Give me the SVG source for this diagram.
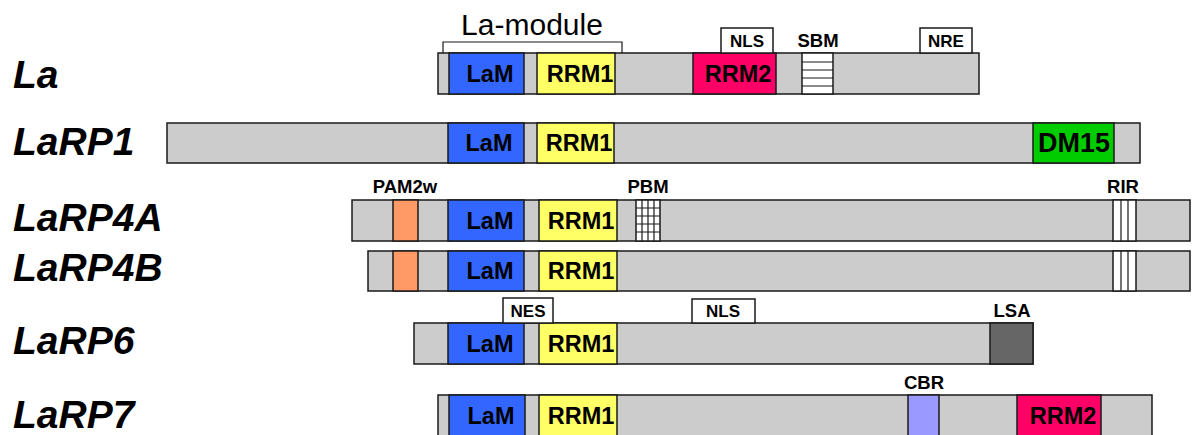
<svg xmlns="http://www.w3.org/2000/svg" width="1192" height="435" viewBox="0 0 1192 435">
  <style>
    .bar { fill: #cccccc; stroke: #1a1a1a; stroke-width: 1.5; }
    .lam { fill: #3366ff; stroke: #1a1a1a; stroke-width: 1.5; }
    .rrm1 { fill: #ffff66; stroke: #1a1a1a; stroke-width: 1.5; }
    .rrm2 { fill: #ff0066; stroke: #1a1a1a; stroke-width: 1.5; }
    .dm15 { fill: #00cc00; stroke: #1a1a1a; stroke-width: 1.5; }
    .pam { fill: #ff9966; stroke: #1a1a1a; stroke-width: 1.5; }
    .lsa { fill: #666666; stroke: #1a1a1a; stroke-width: 1.5; }
    .cbr { fill: #9999ff; stroke: #1a1a1a; stroke-width: 1.5; }
    .white { fill: #ffffff; stroke: #1a1a1a; stroke-width: 1.5; }
    .line { stroke: #1a1a1a; stroke-width: 1.2; fill: none; }
    .name { font-family: "Liberation Sans", Arial, sans-serif; font-weight: bold; font-style: italic; font-size: 39px; fill: #000; }
    .dom { font-family: "Liberation Sans", Arial, sans-serif; font-weight: bold; font-size: 23.5px; fill: #000; text-anchor: middle; }
    .big { font-size: 27px; }
    .tag { font-family: "Liberation Sans", Arial, sans-serif; font-weight: bold; font-size: 18.5px; fill: #000; text-anchor: middle; }
    .box { font-family: "Liberation Sans", Arial, sans-serif; font-weight: bold; font-size: 17px; fill: #000; text-anchor: middle; }
    .title { font-family: "Liberation Sans", Arial, sans-serif; font-size: 30px; fill: #000; text-anchor: middle; }
  </style>

  <!-- La -->
  <g id="La">
    <text class="name" x="13" y="88">La</text>
    <rect class="bar" x="438" y="53" width="541" height="41"/>
    <rect class="lam" x="449" y="53" width="75" height="41"/>
    <rect class="rrm1" x="537" y="53" width="78" height="41"/>
    <rect class="rrm2" x="693" y="53" width="83" height="41"/>
    <rect class="white" x="802" y="53" width="31" height="41"/>
    <path class="line" d="M802 62H833M802 70H833M802 78H833M802 86H833"/>
    <text class="dom" x="490" y="82">LaM</text>
    <text class="dom" x="580" y="82">RRM1</text>
    <text class="dom" x="738" y="82">RRM2</text>
    <rect class="white" x="721" y="28" width="52" height="25"/>
    <text class="box" x="747" y="47">NLS</text>
    <text class="tag" x="818" y="47">SBM</text>
    <rect class="white" x="920" y="28" width="52" height="25"/>
    <text class="box" x="946" y="47">NRE</text>
  </g>

  <!-- LaRP1 -->
  <g id="LaRP1">
    <text class="name" x="13" y="155">LaRP1</text>
    <rect class="bar" x="167" y="123" width="973" height="40"/>
    <rect class="lam" x="448" y="123" width="76" height="40"/>
    <rect class="rrm1" x="537" y="123" width="77" height="40"/>
    <rect class="dm15" x="1033" y="123" width="81" height="40"/>
    <text class="dom" x="489" y="151">LaM</text>
    <text class="dom" x="579" y="151">RRM1</text>
    <text class="dom big" x="1074" y="152">DM15</text>
  </g>

  <!-- LaRP4A -->
  <g id="LaRP4A">
    <text class="name" x="13" y="231">LaRP4A</text>
    <rect class="bar" x="352" y="200" width="838" height="41"/>
    <rect class="pam" x="393" y="200" width="25" height="41"/>
    <rect class="lam" x="448" y="200" width="76" height="41"/>
    <rect class="rrm1" x="539" y="200" width="78" height="41"/>
    <rect class="white" x="636" y="200" width="24" height="41"/>
    <path class="line" d="M642 200V241M648 200V241M654 200V241M636 208H660M636 216H660M636 224H660M636 232H660"/>
    <rect class="white" x="1113" y="200" width="23" height="41"/>
    <path class="line" d="M1121 200V241M1128 200V241"/>
    <text class="dom" x="490" y="229">LaM</text>
    <text class="dom" x="581" y="229">RRM1</text>
    <text class="tag" x="405" y="193">PAM2w</text>
    <text class="tag" x="648" y="193">PBM</text>
    <text class="tag" x="1123" y="193">RIR</text>
  </g>

  <!-- LaRP4B -->
  <g id="LaRP4B">
    <text class="name" x="13" y="281">LaRP4B</text>
    <rect class="bar" x="368" y="251" width="822" height="40"/>
    <rect class="pam" x="393" y="251" width="25" height="40"/>
    <rect class="lam" x="448" y="251" width="76" height="40"/>
    <rect class="rrm1" x="539" y="251" width="78" height="40"/>
    <rect class="white" x="1113" y="251" width="23" height="40"/>
    <path class="line" d="M1121 251V291M1128 251V291"/>
    <text class="dom" x="490" y="279">LaM</text>
    <text class="dom" x="581" y="279">RRM1</text>
  </g>

  <!-- LaRP6 -->
  <g id="LaRP6">
    <text class="name" x="13" y="354">LaRP6</text>
    <rect class="bar" x="414" y="323" width="619" height="41"/>
    <rect class="lam" x="448" y="323" width="76" height="41"/>
    <rect class="rrm1" x="539" y="323" width="78" height="41"/>
    <rect class="lsa" x="990" y="323" width="43" height="41"/>
    <text class="dom" x="490" y="352">LaM</text>
    <text class="dom" x="581" y="352">RRM1</text>
    <rect class="white" x="503" y="298" width="50" height="25"/>
    <text class="box" x="528" y="317">NES</text>
    <rect class="white" x="692" y="299" width="63" height="24"/>
    <text class="box" x="723" y="317">NLS</text>
    <text class="tag" x="1012" y="317">LSA</text>
  </g>

  <!-- LaRP7 -->
  <g id="LaRP7">
    <text class="name" x="13" y="428">LaRP7</text>
    <rect class="bar" x="438" y="395" width="714" height="41"/>
    <rect class="lam" x="449" y="395" width="76" height="41"/>
    <rect class="rrm1" x="539" y="395" width="78" height="41"/>
    <rect class="cbr" x="908" y="395" width="31" height="41"/>
    <rect class="rrm2" x="1017" y="395" width="84" height="41"/>
    <text class="dom" x="491" y="424">LaM</text>
    <text class="dom" x="581" y="424">RRM1</text>
    <text class="dom" x="1063" y="424">RRM2</text>
    <text class="tag" x="924" y="389">CBR</text>
  </g>

  <!-- La-module bracket -->
  <g id="connectors">
    <path class="line" d="M443 53V42H622V53" stroke-width="1.5"/>
    <text class="title" x="532" y="35">La-module</text>
  </g>
</svg>
